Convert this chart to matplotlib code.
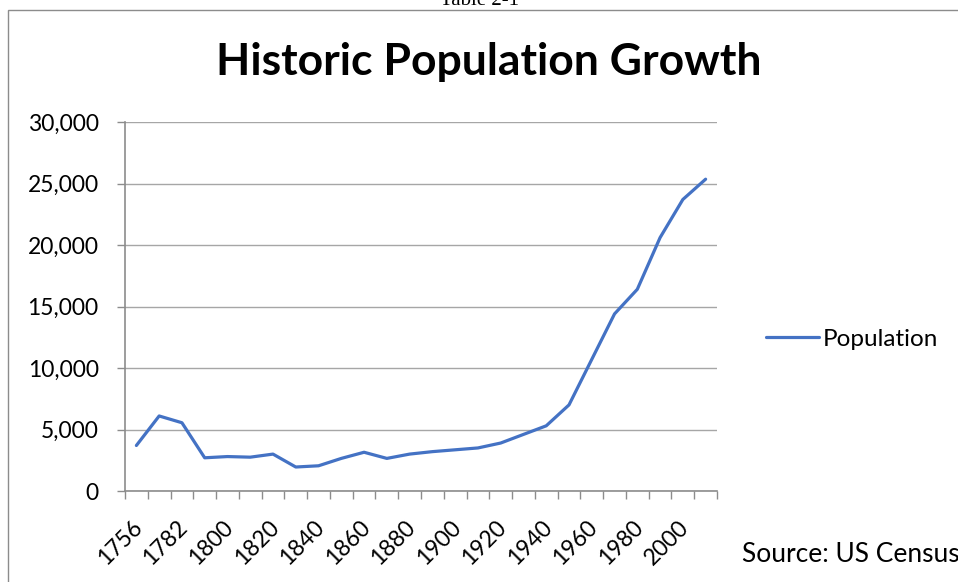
import numpy as np
import matplotlib
matplotlib.use("Agg")
import matplotlib.pyplot as plt
import matplotlib.transforms as mtransforms
from matplotlib.patches import Rectangle
from matplotlib.ticker import FuncFormatter

years = [1756, 1774, 1782, 1790, 1800, 1810, 1820, 1830, 1840, 1850, 1860, 1870, 1880,
         1890, 1900, 1910, 1920, 1930, 1940, 1950, 1960, 1970, 1980, 1990, 2000, 2010]
population = [3700, 6100, 5550, 2700, 2800, 2750, 3000, 1950, 2050, 2650, 3150, 2650, 3000,
              3200, 3350, 3500, 3900, 4600, 5300, 7000, 10700, 14400, 16400, 20600, 23700, 25350]
label_years = [1756, 1782, 1800, 1820, 1840, 1860, 1880, 1900, 1920, 1940, 1960, 1980, 2000]

plt.rcParams['font.family'] = ['Lato', 'DejaVu Sans']
W, H = 958, 582
fig = plt.figure(figsize=(W / 100, H / 100), dpi=100)
ax = fig.add_axes([125 / W, 1 - 491 / H, (717 - 125) / W, (491 - 122) / H])

x = np.arange(len(years))
line, = ax.plot(x, population, color='#4472C4', linewidth=2.3, label='Population',
                solid_joinstyle='round', solid_capstyle='round')

ax.set_xlim(-0.5, len(years) - 0.5)
ax.set_ylim(0, 30000)
ax.set_yticks(range(0, 30001, 5000))
ax.yaxis.set_major_formatter(FuncFormatter(lambda v, p: f'{int(v):,}'))
ax.grid(axis='y', color='#a6a6a6', linewidth=1.0)
ax.set_axisbelow(True)

label_pos = [years.index(y) for y in label_years]
ax.set_xticks(label_pos)
ax.set_xticklabels([str(y) for y in label_years], rotation=45, ha='right',
                   rotation_mode='anchor', fontsize=16.5)
ax.set_xticks(np.arange(-0.5, len(years)), minor=True)
ax.tick_params(axis='x', which='major', length=0, pad=15)
ax.tick_params(axis='x', which='minor', length=6, color='#8c8c8c', width=1)
ax.tick_params(axis='y', length=6, color='#8c8c8c', width=1, labelsize=16.5, pad=13)

# nudge the rotated year labels a little left and down
shift = mtransforms.ScaledTranslation(-5 / 100, -5 / 100, fig.dpi_scale_trans)
for lab in ax.get_xticklabels():
    lab.set_transform(lab.get_transform() + shift)

for s in ['top', 'right']:
    ax.spines[s].set_visible(False)
for s in ['left', 'bottom']:
    ax.spines[s].set_color('#8c8c8c')
    ax.spines[s].set_linewidth(1.2)

fig.text(489 / W, 1 - 62 / H, 'Historic Population Growth', ha='center', va='center',
         fontsize=32, fontweight='bold')
fig.text(480 / W, 1 - 5 / H, 'Table 2-1', ha='center', va='baseline',
         fontsize=15, family=['Liberation Serif', 'DejaVu Serif'])

fig.legend(handles=[line], loc='center left', bbox_to_anchor=(766 / W, 1 - 339 / H),
           frameon=False, fontsize=17.5, handlelength=2.2, handletextpad=0.15,
           borderaxespad=0, borderpad=0)

fig.text(742 / W, 1 - 555 / H, 'Source: US Census', ha='left', va='center', fontsize=19)

fig.patches.append(Rectangle((8 / W, -0.1), 1.0, 1 - 10 / H + 0.1, transform=fig.transFigure,
                             fill=False, edgecolor='#8c8c8c', linewidth=1.0, clip_on=False))

fig.savefig('out.png', dpi=100)
